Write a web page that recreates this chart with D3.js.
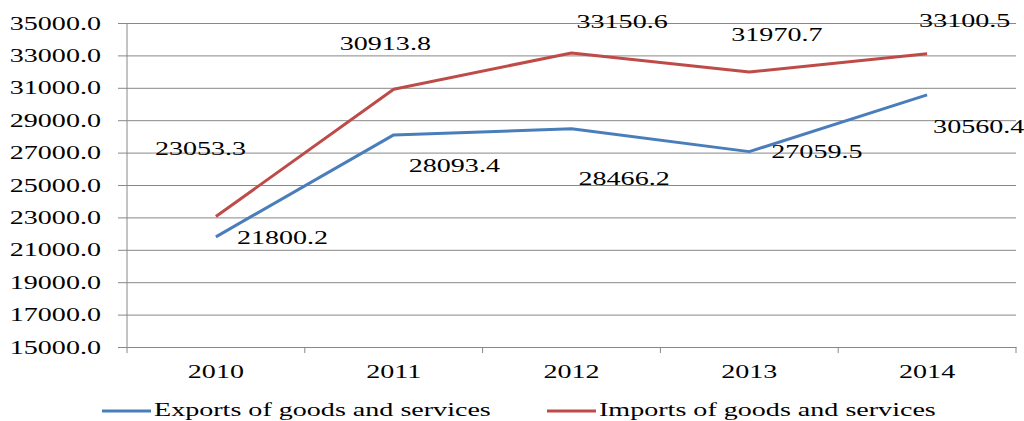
<!DOCTYPE html>
<html>
<head>
<meta charset="utf-8">
<script src="https://cdn.jsdelivr.net/npm/d3@7"></script>
<style>
  html, body { margin: 0; padding: 0; background: #fff; }
  svg { display: block; }
  text { font-family: "Liberation Serif", "Times New Roman", serif; fill: #000; }
</style>
</head>
<body>
<svg id="chart" width="1024" height="421"></svg>
<script>
// ---- data ----
const years = ["2010", "2011", "2012", "2013", "2014"];
const exportsValues = [21800.2, 28093.4, 28466.2, 27059.5, 30560.4];
const importsValues = [23053.3, 30913.8, 33150.6, 31970.7, 33100.5];
const yTicks = [15000, 17000, 19000, 21000, 23000, 25000, 27000, 29000, 31000, 33000, 35000];
const seriesNames = ["Exports of goods and services", "Imports of goods and services"];

// ---- label placement (layout, px offsets from point: left edge, baseline) ----
const exportsLabelOffsets = [[21, 7], [15, 37], [7, 56], [22, 6], [6, 38]];
const importsLabelOffsets = [[-61, -62], [-54, -39], [5, -25], [-18, -31], [-8, -27]];

// ---- layout ----
const S = 1.56;           // horizontal text stretch of the original
const FS = 18;
const pL = 127, pR = 1016, pT = 23, pB = 347;
const blue = "#4a7ebb", red = "#be4b48", gridCol = "#888888";
const FONT = '"Liberation Serif", "Times New Roman", serif';

const svg = d3.select("#chart");
const x = d3.scaleBand().domain(years).range([pL, pR]).padding(0);
const y = d3.scaleLinear().domain([15000, 35000]).range([pB, pT]);

function stretchedText(g, tx, ty, str, anchor) {
  return g.append("text")
    .attr("transform", `translate(${tx},${ty}) scale(${S},1)`)
    .attr("text-anchor", anchor || "start")
    .style("font-size", FS + "px")
    .style("font-family", FONT)
    .text(str);
}

// gridlines + y axis
const yAxis = d3.axisLeft(y).tickValues(yTicks).tickSize(pR - pL).tickSizeOuter(0)
  .tickFormat(d => d3.format(".1f")(d));
const gy = svg.append("g").attr("transform", `translate(${pR},0)`).call(yAxis);
gy.select(".domain").remove();
gy.selectAll(".tick line").attr("stroke", gridCol).attr("stroke-width", 1)
  .attr("x2", -(pR - pL) - 9);
gy.selectAll(".tick text")
  .attr("x", 0).attr("dy", null)
  .attr("transform", `translate(${-(pR - 101)},6) scale(${S},1)`)
  .attr("text-anchor", "end")
  .style("font-size", FS + "px")
  .style("font-family", FONT)
  .attr("fill", "#000");

// y axis line
svg.append("line").attr("x1", pL).attr("x2", pL).attr("y1", pT).attr("y2", pB)
  .attr("stroke", gridCol).attr("stroke-width", 1);

// x axis
const xAxis = d3.axisBottom(x).tickSize(0).tickSizeOuter(0).tickPadding(0);
const gx = svg.append("g").attr("transform", `translate(0,${pB})`).call(xAxis);
gx.select(".domain").attr("stroke", gridCol);
gx.selectAll(".tick text")
  .attr("y", 0).attr("dy", null)
  .attr("transform", `translate(0,31) scale(${S},1)`)
  .style("font-size", FS + "px")
  .style("font-family", FONT)
  .attr("fill", "#000");
// tick marks between categories
const bounds = years.map(d => x(d)).concat([x(years[years.length - 1]) + x.bandwidth()]);
svg.append("g").selectAll("line").data(bounds).join("line")
  .attr("x1", d => d).attr("x2", d => d)
  .attr("y1", pB).attr("y2", pB + 6)
  .attr("stroke", gridCol).attr("stroke-width", 1);

// lines
const cx = d => x(d) + x.bandwidth() / 2;
const line = d3.line().x((d, i) => cx(years[i])).y(d => y(d));
svg.append("path").datum(exportsValues).attr("d", line)
  .attr("fill", "none").attr("stroke", blue).attr("stroke-width", 3).attr("stroke-linejoin", "round");
svg.append("path").datum(importsValues).attr("d", line)
  .attr("fill", "none").attr("stroke", red).attr("stroke-width", 3).attr("stroke-linejoin", "round");

// data labels
const gl = svg.append("g");
importsValues.forEach((v, i) => {
  const o = importsLabelOffsets[i];
  stretchedText(gl, cx(years[i]) + o[0], y(v) + o[1], d3.format(".1f")(v));
});
exportsValues.forEach((v, i) => {
  const o = exportsLabelOffsets[i];
  stretchedText(gl, cx(years[i]) + o[0], y(v) + o[1], d3.format(".1f")(v));
});

// legend
const lg = svg.append("g");
const legendItems = [
  { name: seriesNames[0], color: blue, x0: 102 },
  { name: seriesNames[1], color: red, x0: 547 }
];
legendItems.forEach(it => {
  lg.append("line").attr("x1", it.x0).attr("x2", it.x0 + 49).attr("y1", 411).attr("y2", 411)
    .attr("stroke", it.color).attr("stroke-width", 3);
  stretchedText(lg, it.x0 + 52, 416, it.name);
});
</script>
</body>
</html>
